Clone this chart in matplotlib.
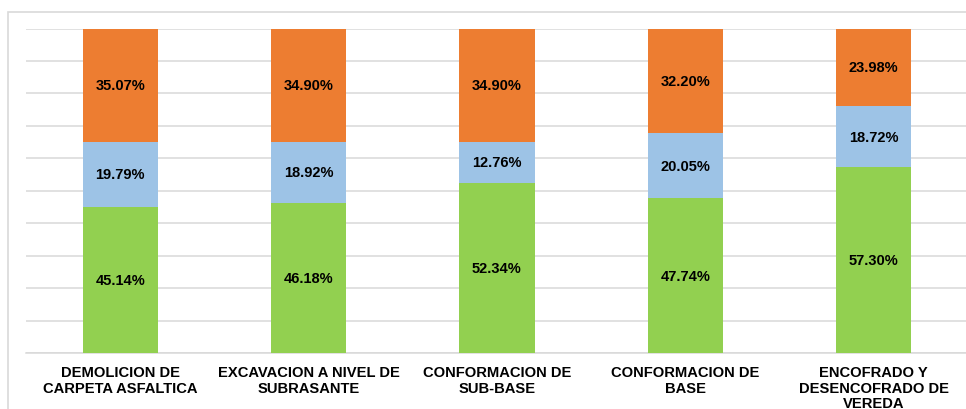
import matplotlib.pyplot as plt
import matplotlib.patches as patches
import numpy as np

plt.rcParams['font.family'] = ['Liberation Sans', 'DejaVu Sans']

# data
categorias = ['DEMOLICION DE\nCARPETA ASFALTICA',
              'EXCAVACION A NIVEL DE\nSUBRASANTE',
              'CONFORMACION DE\nSUB-BASE',
              'CONFORMACION DE\nBASE',
              'ENCOFRADO Y\nDESENCOFRADO DE\nVEREDA']
verde = [45.14, 46.18, 52.34, 47.74, 57.30]
azul = [19.79, 18.92, 12.76, 20.05, 18.72]
naranja = [35.07, 34.90, 34.90, 32.20, 23.98]

series = [(verde, '#92D050'), (azul, '#9DC3E6'), (naranja, '#ED7D31')]

fig = plt.figure(figsize=(9.66, 4.10), dpi=100)
ax = fig.add_axes([26 / 966, 1 - 354 / 410, 1 - 26 / 966 + 0.002, (354 - 29.5) / 410])

# outer chart frame
fig.patches.append(patches.Rectangle((8 / 966, -0.1), 1.1, 1.1 - 13 / 410,
                                     transform=fig.transFigure, fill=False,
                                     edgecolor='#D9D9D9', linewidth=1.2, zorder=0))

x = np.arange(len(categorias))
total = np.array(verde) + np.array(azul) + np.array(naranja)
bottom = np.zeros(len(categorias))
for vals, col in series:
    frac = np.array(vals) / total
    ax.bar(x, frac, 0.4, bottom=bottom, color=col, zorder=3)
    for xi, b, f, v in zip(x, bottom, frac, vals):
        ax.text(xi, b + f / 2, f'{v:.2f}%', ha='center', va='center',
                fontsize=10.5, fontweight='bold', color='black', zorder=4)
    bottom = bottom + frac

ax.set_xlim(-0.5, len(categorias) - 0.5)
ax.set_ylim(0, 1.0)
ax.set_yticks(np.arange(0, 1.01, 0.1))
ax.yaxis.grid(True, color='#D9D9D9', linewidth=1.1, zorder=0)
ax.tick_params(axis='y', left=False, labelleft=False)
ax.tick_params(axis='x', bottom=False, pad=5.5)
ax.set_xticks(x)
ax.set_xticklabels(categorias, fontsize=10.6, fontweight='bold', linespacing=1.12)
for s in ['top', 'right', 'left']:
    ax.spines[s].set_visible(False)
ax.spines['bottom'].set_color('#D9D9D9')
ax.spines['bottom'].set_linewidth(1.1)

fig.savefig('out.png', dpi=100)
